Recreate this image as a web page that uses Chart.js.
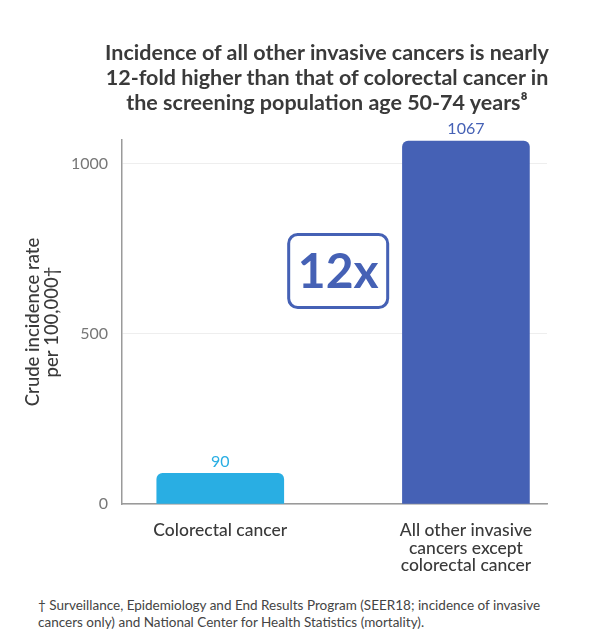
<!DOCTYPE html>
<html>
<head>
<meta charset="utf-8">
<script src="https://cdn.jsdelivr.net/npm/chart.js@4.4.1/dist/chart.umd.min.js"></script>
<style>
  body { margin: 0; background: #fff; }
  #wrap { width: 600px; height: 644px; position: relative; }
  #chart-box { width: 600px; height: 590px; }
  #title {
    position: absolute; left: 77px; top: 40px; width: 500px; text-align: center;
    font-family: Lato, sans-serif; font-weight: bold; font-size: 21.5px; line-height: 25px; color: #3a3a3a;
  }
  #note {
    position: absolute; left: 38px; top: 597px; width: 540px;
    font-family: Lato, sans-serif; font-size: 13.5px; line-height: 17px; color: #444;
  }
</style>
</head>
<body>
<div id="wrap">
  <div id="title">Incidence of all other invasive cancers is nearly<br>12-fold higher than that of colorectal cancer in<br>the screening population age 50-74 years⁸</div>
  <div id="chart-box"><canvas id="chart"></canvas></div>
  <div id="note">† Surveillance, Epidemiology and End Results Program (SEER18; incidence of invasive cancers only) and National Center for Health Statistics (mortality).</div>
</div>
<script>
// Data
const categories = [
  ['Colorectal cancer'],
  ['All other invasive', 'cancers except', 'colorectal cancer']
];
const rates = [90, 1067];
const barColors = ['#29aee3', '#4561b5'];
const yTicks = [0, 500, 1000];
const foldLabel = '12x';

const FONT = 'Lato, sans-serif';

// value labels above the bars + the "12x" callout box
const barLabels = {
  id: 'barLabels',
  afterDatasetsDraw(chart) {
    const ctx = chart.ctx;
    const meta = chart.getDatasetMeta(0);
    ctx.save();
    ctx.font = '16px ' + FONT;
    ctx.textAlign = 'center';
    ctx.textBaseline = 'bottom';
    meta.data.forEach((bar, i) => {
      ctx.fillStyle = barColors[i];
      ctx.fillText(String(rates[i]), bar.x, bar.y - 4);
    });

    // callout between the bars
    const cx = chart.scales.x.getPixelForValue(0.48);
    const cy = chart.scales.y.getPixelForValue(685);
    const w = 99, h = 73;
    ctx.strokeStyle = '#4561b5';
    ctx.lineWidth = 3;
    ctx.beginPath();
    ctx.roundRect(cx - w / 2, cy - h / 2, w, h, 9);
    ctx.stroke();
    ctx.fillStyle = '#4561b5';
    ctx.font = 'bold 48px ' + FONT;
    ctx.textBaseline = 'middle';
    ctx.fillText(foldLabel, cx, cy + 2);
    ctx.restore();
  }
};

const ctx = document.getElementById('chart').getContext('2d');
new Chart(ctx, {
  type: 'bar',
  data: {
    datasets: [{
      data: rates.map((v, i) => ({ x: i, y: v })),
      backgroundColor: barColors,
      barThickness: 127,
      borderRadius: 6,
      borderSkipped: 'start'
    }]
  },
  options: {
    responsive: true,
    maintainAspectRatio: false,
    animation: false,
    layout: { padding: { left: 20, right: 53, top: 140, bottom: 0 } },
    plugins: {
      legend: { display: false },
      tooltip: { enabled: false },
      title: { display: false }
    },
    scales: {
      x: {
        type: 'linear',
        offset: false,
        min: -0.4,
        max: 1.33,
        afterBuildTicks: (scale) => { scale.ticks = categories.map((c, i) => ({ value: i })); },
        afterFit: (scale) => { scale.height = 86; },
        grid: { display: false },
        border: { display: true, color: '#9a9a9a', width: 1.5 },
        ticks: {
          callback: (v) => categories[v],
          color: '#3a3a3a',
          padding: 10,
          maxRotation: 0,
          font: { family: FONT, size: 17.5, weight: '500', lineHeight: 1.0 }
        }
      },
      y: {
        min: 0,
        max: 1070,
        afterBuildTicks: (scale) => { scale.ticks = yTicks.map(v => ({ value: v })); },
        afterFit: (scale) => { scale.width = 102; },
        grid: { color: '#eeeeee', drawTicks: false },
        border: { display: true, color: '#9a9a9a', width: 1.5 },
        ticks: {
          callback: (v) => String(v),
          color: '#777',
          padding: 14,
          font: { family: FONT, size: 16 }
        },
        title: {
          display: true,
          text: ['Crude incidence rate', 'per 100,000†'],
          color: '#3a3a3a',
          font: { family: FONT, size: 18.5, weight: '500', lineHeight: 1.05 },
          padding: { top: 3, bottom: 2 }
        }
      }
    }
  },
  plugins: [barLabels]
});
</script>
</body>
</html>
